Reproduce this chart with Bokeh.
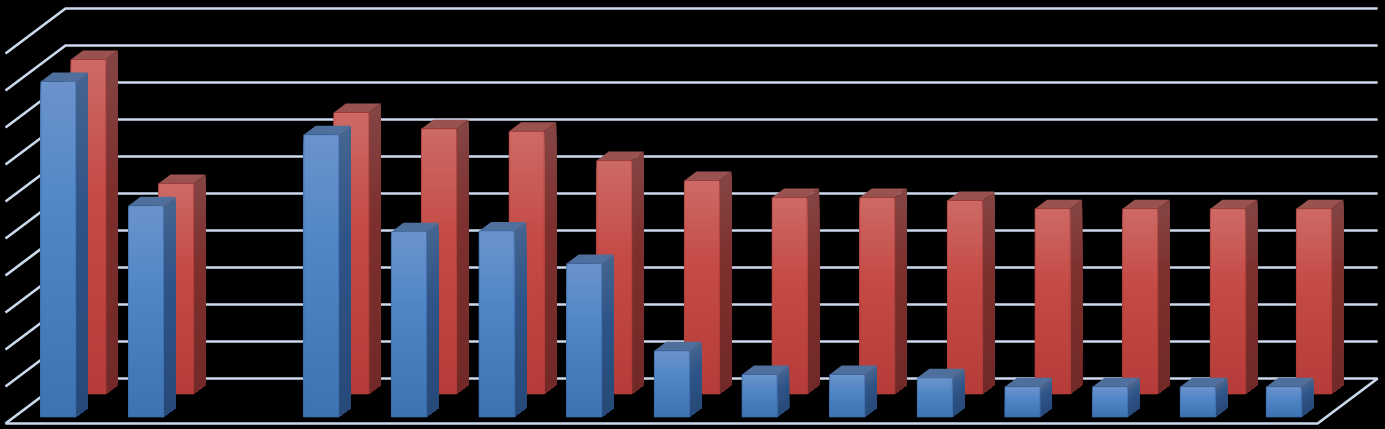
from bokeh.plotting import figure
from bokeh.embed import file_html
from bokeh.resources import INLINE

# values per category slot (no labels in the source picture); None = empty slot
slots = list(range(15))
blue_values = [90.7, 57.1, None, 76.3, 50.1, 50.3, 41.5, 17.9, 11.5, 11.5, 10.6, 8.2, 8.2, 8.2, 8.2]
red_values = [90.4, 56.9, None, 76.1, 71.7, 71.0, 63.1, 57.7, 53.1, 53.1, 52.3, 50.1, 50.1, 50.1, 50.1]
grid_ticks = list(range(0, 101, 10))

W, H = 1385, 429
SLOT_PX, VAL_PX = 87.65, 3.7
LEFT_PX, FLOOR_PX = 5.0, 423.0
DX = 60.0 / SLOT_PX      # oblique shift of full depth, in slots
DY = 45.0 / VAL_PX       # oblique shift of full depth, in value units
INSET, BAR_W, BAR_D = 0.304, 0.4, 0.2
N_SLOTS = 14.97
LAST_NUDGE = -1.6 / SLOT_PX   # the last slot sits slightly closer in the source

p = figure(width=W, height=H, output_backend="svg", toolbar_location=None,
           x_range=(-LEFT_PX / SLOT_PX, (W - LEFT_PX) / SLOT_PX),
           y_range=((FLOOR_PX - H) / VAL_PX, FLOOR_PX / VAL_PX),
           min_border=0, background_fill_color="#000000", border_fill_color="#000000",
           outline_line_color=None)
p.axis.visible = False
p.grid.visible = False


def ramp(stops, t):
    """Three-stop colour ramp: top, 40 % down, bottom."""
    a, b, s = (stops[0], stops[1], t / 0.4) if t < 0.4 else (stops[1], stops[2], (t - 0.4) / 0.6)
    ca = [int(a[i:i + 2], 16) for i in (1, 3, 5)]
    cb = [int(b[i:i + 2], 16) for i in (1, 3, 5)]
    return "#%02x%02x%02x" % tuple(round(x + (y - x) * s) for x, y in zip(ca, cb))


# walls and floor grid
gx, gy = [], []
for t in grid_ticks[1:]:
    gx.append([0, DX, N_SLOTS + DX])
    gy.append([t, t + DY, t + DY])
gx.append([0, DX]); gy.append([0, DY])
gx.append([0, N_SLOTS, N_SLOTS + DX, DX]); gy.append([0, 0, DY, DY])
p.multi_line(gx, gy, line_color="#cbd9ec", line_width=2.7)


def draw_series(values, d0, front, side, top, edge, x_shift=0.0):
    fx, fy, fc, sx, sy, sc, tx, ty, ox, oy = [], [], [], [], [], [], [], [], [], []
    d1 = d0 + BAR_D
    for c, v in zip(slots, values):
        if v is None:
            continue
        x0 = c + INSET + d0 * DX + x_shift + (LAST_NUDGE if c == slots[-1] else 0.0)
        x1 = x0 + BAR_W
        b0 = d0 * DY
        b1 = d1 * DY
        layers = max(8, round(v * VAL_PX / 2))
        for k in range(layers):
            h = v * (1 - k / layers)
            col_t = k / (layers - 1)
            fx.append([x0, x1, x1, x0]); fy.append([b0, b0, b0 + h, b0 + h])
            fc.append(ramp(front, col_t))
            sx.append([x1, x1 + BAR_D * DX, x1 + BAR_D * DX, x1])
            sy.append([b0, b1, b1 + h, b0 + h])
            sc.append(ramp(side, col_t))
        tx.append([x0, x1, x1 + BAR_D * DX, x0 + BAR_D * DX])
        ty.append([b0 + v, b0 + v, b1 + v, b1 + v])
        ox.append([x0, x1, x1, x0]); oy.append([b0, b0, b0 + v, b0 + v])
    p.patches(sx, sy, fill_color=sc, line_color=None)
    p.patches(fx, fy, fill_color=fc, line_color=None)
    p.patches(tx, ty, fill_color=top, line_color=None)
    p.patches(ox, oy, fill_color=None, line_color=edge, line_width=1, line_alpha=0.7)


draw_series(red_values, 29.5 / 45, ("#cd6a66", "#c54b46", "#b53c38"),
            ("#844544", "#7e302e", "#722a28"), "#9a5250", "#a83c38", x_shift=-0.6 / SLOT_PX)
draw_series(blue_values, 6.5 / 45, ("#6b93cc", "#5086c6", "#3d72b3"),
            ("#456590", "#2f5488", "#274a78"), "#4f6f9c", "#3a69a6")

html = file_html(p, INLINE).replace(
    "<head>", "<head><style>html,body{margin:0;padding:0;background:#000;overflow:hidden}</style>", 1)
open("out.html", "w").write(html)
